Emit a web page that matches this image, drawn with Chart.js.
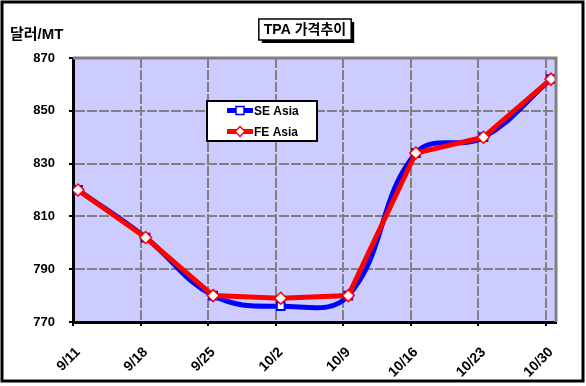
<!DOCTYPE html>
<html>
<head>
<meta charset="utf-8">
<script src="https://cdn.jsdelivr.net/npm/chart.js@4.4.0/dist/chart.umd.min.js"></script>
<style>
  html, body { margin: 0; padding: 0; background: #fff; }
  #wrap { width: 586px; height: 386px; }
</style>
</head>
<body>
<div id="wrap"><canvas id="myChart" width="586" height="386"></canvas></div>
<script>
const dates = ['9/11', '9/18', '9/25', '10/2', '10/9', '10/16', '10/23', '10/30']
const seAsia = [820, 802, 780, 776, 780, 834, 840, 862]
const feAsia = [820, 802, 780, 779, 780, 834, 840, 862]
const yTicks = [770, 790, 810, 830, 850, 870]

const titleText = 'TPA 가격추이'
const unitText = '달러/MT'
const shift = 0.074   // gridlines sit a bit left of the points

const toPoints = arr => arr.map((v, i) => ({ x: i, y: v }))

const frame = {
  id: 'frame',
  beforeDraw(chart) {
    const c = chart.ctx
    const a = chart.chartArea
    c.save()
    c.fillStyle = '#fff'
    c.fillRect(0, 0, chart.width, chart.height)
    c.fillStyle = '#CCCCFF'
    c.fillRect(a.left, a.top, a.right - a.left, a.bottom - a.top)
    c.restore()
  },
  afterDatasetsDraw(chart) {
    const c = chart.ctx
    const a = chart.chartArea
    c.save()
    // grey top and right edges of the plot
    c.strokeStyle = '#808080'
    c.lineWidth = 3
    c.beginPath()
    c.moveTo(a.left, a.top)
    c.lineTo(a.right, a.top)
    c.lineTo(a.right, a.bottom)
    c.stroke()
    c.restore()
  },
  afterDraw(chart) {
    const c = chart.ctx
    c.save()
    // outer frame
    c.strokeStyle = '#000'
    c.lineWidth = 3
    c.strokeRect(2, 2, 581, 379)

    // title box with shadow
    c.font = 'bold 14px "Liberation Sans", "Noto Sans CJK KR", sans-serif'
    const tw = c.measureText(titleText).width
    const cx = 305, bx = cx - tw / 2 - 5, by = 19, bw = tw + 10, bh = 21
    c.fillStyle = '#000'
    c.fillRect(bx + 3, by + 3, bw, bh)
    c.fillStyle = '#fff'
    c.fillRect(bx, by, bw, bh)
    c.lineWidth = 1.5
    c.strokeRect(bx, by, bw, bh)
    c.fillStyle = '#000'
    c.textAlign = 'center'
    c.textBaseline = 'middle'
    c.fillText(titleText, cx, by + bh / 2 + 1)

    // unit label
    c.font = 'bold 15px "Liberation Sans", "Noto Sans CJK KR", sans-serif'
    c.textAlign = 'left'
    c.textBaseline = 'alphabetic'
    c.fillText(unitText, 10, 39)

    // legend box
    c.fillStyle = '#fff'
    c.fillRect(207, 101, 110, 40)
    c.strokeStyle = '#000'
    c.lineWidth = 2
    c.strokeRect(207, 101, 110, 40)
    const rows = [110.5, 131.5]
    c.font = 'bold 12px "Liberation Sans", sans-serif'
    chart.data.datasets.forEach((ds, i) => {
      const y = rows[i]
      c.strokeStyle = ds.borderColor
      c.lineWidth = 5
      c.beginPath()
      c.moveTo(227, y)
      c.lineTo(253, y)
      c.stroke()
      c.fillStyle = '#fff'
      c.lineWidth = 1.5
      c.beginPath()
      if (ds.pointStyle === 'rect') {
        c.rect(236, y - 4, 8, 8)
      } else {
        c.moveTo(240, y - 5); c.lineTo(245, y); c.lineTo(240, y + 5); c.lineTo(235, y); c.closePath()
      }
      c.fill()
      c.stroke()
      c.fillStyle = '#000'
      c.textBaseline = 'middle'
      c.fillText(ds.label, 254, y + 1)
    })
    c.restore()
  }
}

const ctx = document.getElementById('myChart').getContext('2d')
const myChart = new Chart(ctx, {
  type: 'line',
  data: {
    datasets: [{
      label: 'SE Asia',
      data: toPoints(seAsia),
      borderColor: '#0000FF',
      borderWidth: 5,
      tension: 0.4,
      pointStyle: 'rect',
      pointRadius: 5.5,
      pointBackgroundColor: '#fff',
      pointBorderColor: '#0000FF',
      pointBorderWidth: 2,
      order: 2
    }, {
      label: 'FE Asia',
      data: toPoints(feAsia),
      borderColor: '#FF0000',
      borderWidth: 5,
      tension: 0,
      pointStyle: 'rectRot',
      pointRadius: 6,
      pointBackgroundColor: '#fff',
      pointBorderColor: '#FF0000',
      pointBorderWidth: 1.5,
      order: 1
    }]
  },
  options: {
    responsive: false,
    animation: false,
    layout: { padding: { top: 58, right: 30, left: 0, bottom: 0 } },
    plugins: {
      legend: { display: false },
      title: { display: false },
      tooltip: { enabled: false }
    },
    scales: {
      x: {
        type: 'linear',
        min: -shift,
        max: dates.length - 1 + shift,
        afterBuildTicks(scale) {
          scale.ticks = dates.map((d, i) => ({ value: i - shift }))
        },
        afterFit(scale) { scale.height = 64 },
        grid: { color: '#808080', lineWidth: 2, tickLength: 4, tickColor: '#000', drawOnChartArea: true },
        border: { color: '#000', width: 3, dash: [10, 2] },
        ticks: {
          color: '#000',
          font: { family: '"Liberation Sans", sans-serif', size: 14, weight: 'bold' },
          minRotation: 45,
          maxRotation: 45,
          padding: 18,
          labelOffset: 5,
          callback: v => dates[Math.round(v + shift)]
        }
      },
      y: {
        min: 770,
        max: 870,
        afterBuildTicks(scale) {
          scale.ticks = yTicks.map(v => ({ value: v }))
        },
        afterFit(scale) { scale.width = 73 },
        grid: { color: '#808080', lineWidth: 2, tickLength: 4, tickColor: '#000' },
        border: { color: '#000', width: 3, dash: [10, 2] },
        ticks: {
          color: '#000',
          padding: 14,
          font: { family: '"Liberation Sans", sans-serif', size: 13, weight: 'bold' }
        }
      }
    }
  },
  plugins: [frame]
})
</script>
</body>
</html>
